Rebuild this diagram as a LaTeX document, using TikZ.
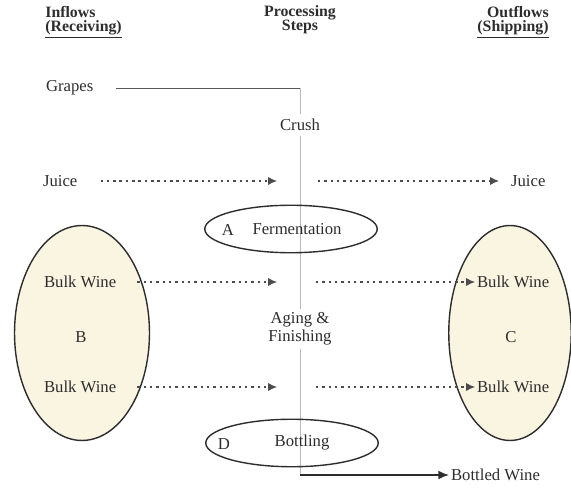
\documentclass[tikz,border=0pt]{standalone}
\usepackage{fontspec}
\setmainfont{Liberation Serif}
\usetikzlibrary{arrows.meta,shapes.geometric}

\definecolor{crema}{RGB}{250,245,225}
\definecolor{tinta}{RGB}{45,45,45}

\tikzset{
  texto/.style={font=\fontsize{9.5}{11}\selectfont, text=tinta, inner sep=1pt},
  titulo/.style={font=\bfseries\fontsize{9}{8}\selectfont, text=tinta, inner sep=0pt},
  flujo/.style={-{Latex[length=5pt,width=4.5pt]}, tinta!85, line width=0.6pt, dash pattern=on 1.4pt off 2.2pt},
  paso/.style={ellipse, draw=tinta, line width=0.8pt, inner sep=0pt},
  zona/.style={ellipse, draw=tinta, fill=crema, line width=0.8pt, inner sep=0pt}
}

\begin{document}
\begin{tikzpicture}[x=0.02cm,y=-0.02cm]
\useasboundingbox (0,0) rectangle (571,492);

%zonas de recepcion y envio
\node[zona, minimum width=2.7cm, minimum height=4.3cm] (zonaB) at (82,333) {};
\node[zona, minimum width=2.45cm, minimum height=4.3cm] (zonaC) at (510,333) {};

%linea de proceso
\coordinate (c0) at (300,88);
\coordinate (c1) at (300,475);
\draw [gray!55, line width=0.5pt] (c0) -- (c1);

%encabezados
\node[titulo, anchor=west, align=left] (entradas) at (45,22) {Inflows\\\underline{(Receiving)}};
\node[titulo, align=center] (pasos) at (300,20) {Processing\\Steps};
\node[titulo, anchor=east, align=right] (salidas) at (549,22) {Outflows\\\underline{(Shipping)}};

%pasos del proceso
\node[texto, fill=white, inner sep=3pt] (crush) at (300,125) {Crush};
\node[paso, minimum width=3.45cm, minimum height=0.95cm] (fermentacion) at (291,229) {};
\node[texto] (letraA) at (228,230) {A};
\node[texto] (ferm) at (297,229) {Fermentation};
\node[texto, fill=white, align=center, inner sep=2pt, font=\fontsize{9.5}{10}\selectfont] (aging) at (300,329) {Aging \&\\Finishing};
\node[paso, minimum width=3.45cm, minimum height=0.95cm] (embotellado) at (292,443) {};
\node[texto] (letraD) at (224,444) {D};
\node[texto] (bottling) at (302,443) {Bottling};

%entradas
\node[texto, anchor=west] (uvas) at (44,88) {Grapes};
\node[texto, anchor=west] (jugoE) at (41,181) {Juice};
\node[texto, anchor=west] (vinoE1) at (42,282) {Bulk Wine};
\node[texto] (letraB) at (81,337) {B};
\node[texto, anchor=west] (vinoE2) at (42,387) {Bulk Wine};

%salidas
\node[texto, anchor=west] (jugoS) at (509,181) {Juice};
\node[texto, anchor=west] (vinoS1) at (475,282) {Bulk Wine};
\node[texto] (letraC) at (511,337) {C};
\node[texto, anchor=west] (vinoS2) at (475,387) {Bulk Wine};
\node[texto, anchor=west] (botellas) at (449,475) {Bottled Wine};

%puntos de llegada y salida de las flechas
\coordinate (jE) at (277,181);
\coordinate (jS) at (318,181);
\coordinate (vE1) at (277,282);
\coordinate (vS1) at (316,282);
\coordinate (vE2) at (277,387);
\coordinate (vS2) at (316,387);

%flujos
\draw [gray!70!black, line width=0.5pt, shorten <=0.42cm] (uvas.east) -- (c0);
\draw [flujo, shorten <=0.42cm] (jugoE.east) -- (jE);
\draw [flujo, shorten >=0.2cm] (jS) -- (jugoS.west);
\draw [flujo, shorten <=0.38cm] (vinoE1.east) -- (vE1);
\draw [flujo] (vS1) -- (vinoS1.west);
\draw [flujo, shorten <=0.38cm] (vinoE2.east) -- (vE2);
\draw [flujo] (vS2) -- (vinoS2.west);
\draw [-{Latex[length=6pt,width=5pt]}, tinta, line width=1pt] (c1) -- (botellas.west);
\end{tikzpicture}
\end{document}
